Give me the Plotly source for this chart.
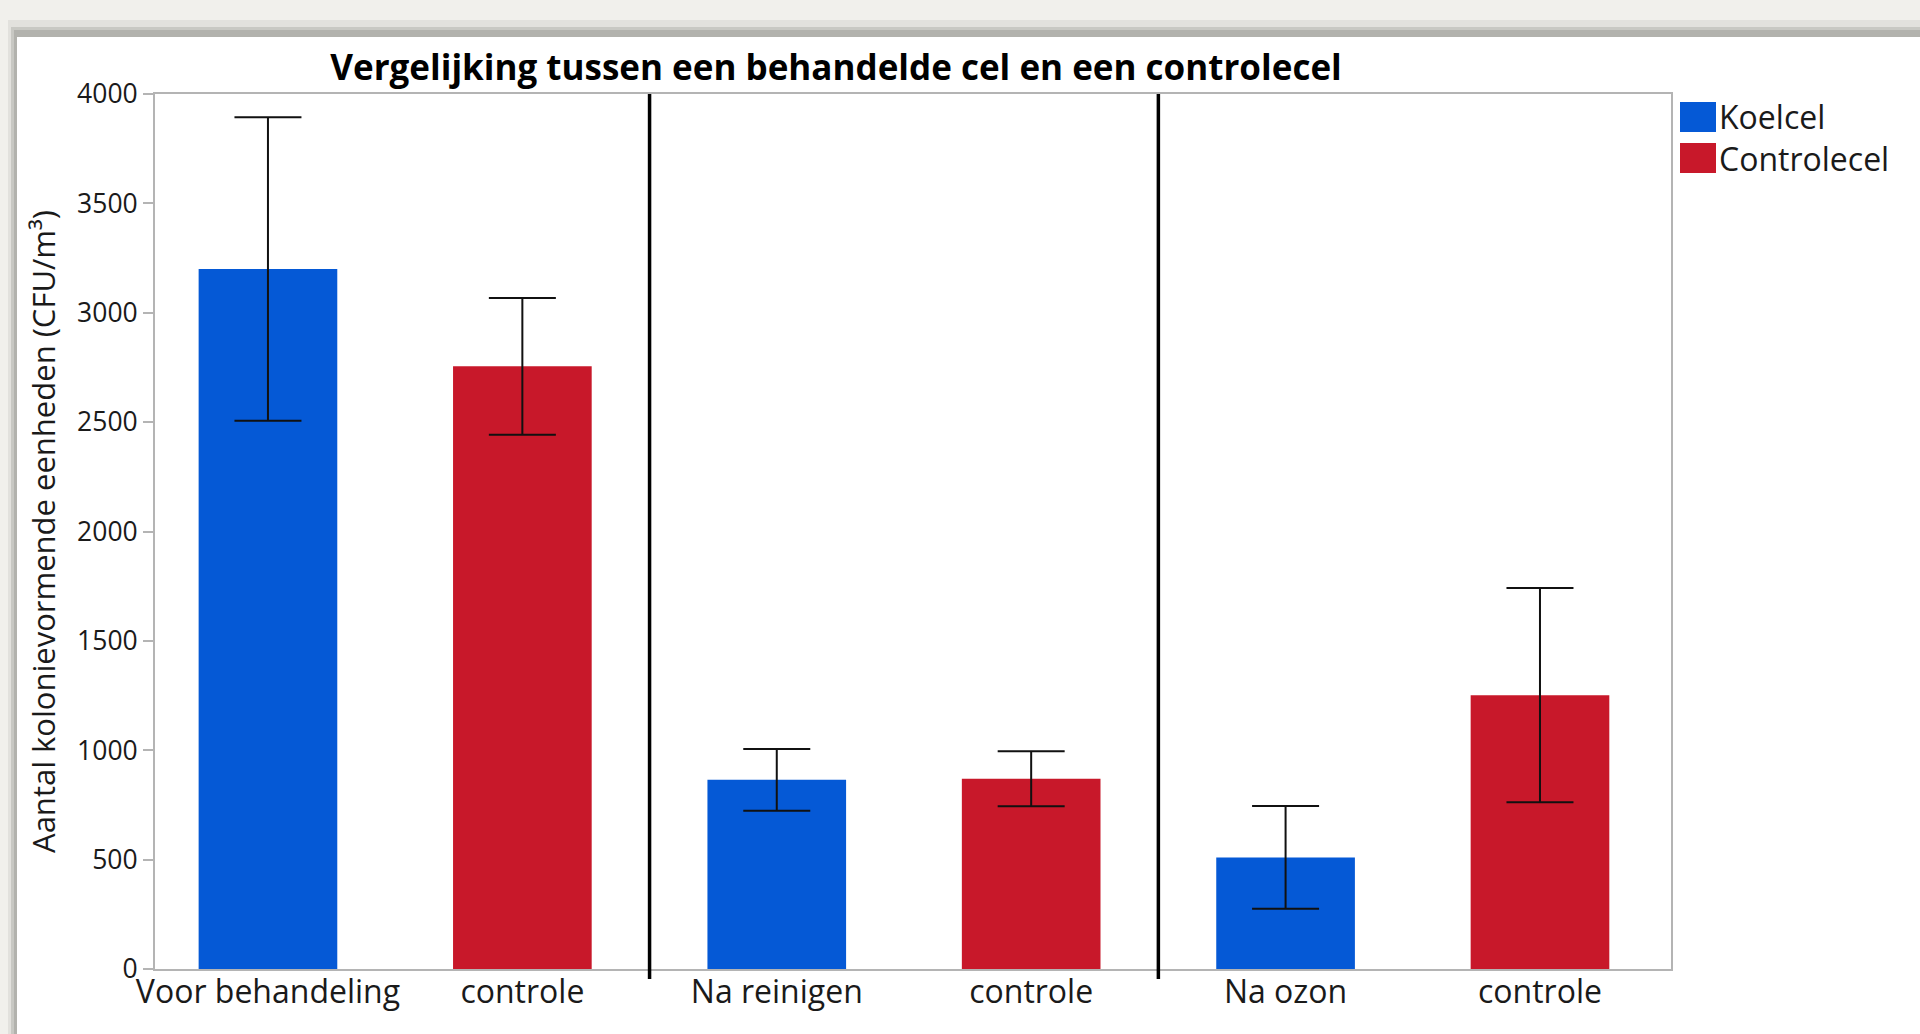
import plotly.graph_objects as go

# ---- data ----
categories = ["Voor behandeling", "controle", "Na reinigen", "controle", "Na ozon", "controle"]
koelcel_pos = [0, 2, 4]
koelcel_values = [3200, 865, 510]
koelcel_errors = [694, 141, 235]
controle_pos = [1, 3, 5]
controle_values = [2755, 870, 1252]
controle_errors = [313, 126, 490]
y_ticks = [0, 500, 1000, 1500, 2000, 2500, 3000, 3500, 4000]
separators = [1.5, 3.5]

W, H = 1920, 1034
L, R, T, B = 155, 1671, 94, 969
PW, PH = R - L, B - T

def px(xp):
    return (xp - L) / PW

def py(yp):
    return (B - yp) / PH

FONT = "Open Sans"
BLUE = "#0559D6"
RED = "#C8182A"
AXIS = "#B4B4B4"

fig = go.Figure()
fig.add_trace(go.Bar(
    x=koelcel_pos, y=koelcel_values, name="Koelcel", width=0.545,
    marker=dict(color=BLUE, line=dict(width=0)),
    error_y=dict(type="data", array=koelcel_errors, color="#111111", thickness=2, width=33.5),
))
fig.add_trace(go.Bar(
    x=controle_pos, y=controle_values, name="Controlecel", width=0.545,
    marker=dict(color=RED, line=dict(width=0)),
    error_y=dict(type="data", array=controle_errors, color="#111111", thickness=2, width=33.5),
))

shapes = []
# window frame background
shapes.append(dict(type="rect", xref="paper", yref="paper", x0=px(0), x1=px(W), y0=py(H), y1=py(0),
                   fillcolor="#F1F0EC", line=dict(width=0), layer="below"))
shapes.append(dict(type="rect", xref="paper", yref="paper", x0=px(8), x1=px(W), y0=py(H), y1=py(20),
                   fillcolor="#E2E1DD", line=dict(width=0), layer="below"))
shapes.append(dict(type="rect", xref="paper", yref="paper", x0=px(11), x1=px(W), y0=py(H), y1=py(27),
                   fillcolor="#C8C8C3", line=dict(width=0), layer="below"))
shapes.append(dict(type="rect", xref="paper", yref="paper", x0=px(14), x1=px(W), y0=py(H), y1=py(30),
                   fillcolor="#B2B2AD", line=dict(width=0), layer="below"))
shapes.append(dict(type="rect", xref="paper", yref="paper", x0=px(17), x1=px(W), y0=py(H), y1=py(37),
                   fillcolor="#FFFFFF", line=dict(width=0), layer="below"))
# separators
for s in separators:
    shapes.append(dict(type="line", xref="x", yref="paper", x0=s, x1=s, y0=-10 / PH, y1=1,
                       line=dict(color="#000000", width=3.5)))
# legend squares
leg = [("Koelcel", BLUE, 102, 132), ("Controlecel", RED, 143, 173)]
annotations = []
for name, col, y0, y1 in leg:
    shapes.append(dict(type="rect", xref="paper", yref="paper", x0=px(1680), x1=px(1716),
                       y0=py(y1), y1=py(y0), fillcolor=col, line=dict(width=0)))
    annotations.append(dict(text=name, xref="paper", yref="paper", x=px(1717), y=py((y0 + y1) / 2),
                            xanchor="left", yanchor="middle", showarrow=False,
                            font=dict(family=FONT, size=32, color="#1a1a1a")))

fig.update_layout(
    width=W, height=H,
    margin=dict(l=L, r=W - R, t=T, b=H - B, pad=0),
    paper_bgcolor="#F1F0EC",
    plot_bgcolor="rgba(0,0,0,0)",
    barmode="overlay",
    showlegend=False,
    title=dict(text="<b>Vergelijking tussen een behandelde cel en een controlecel</b>",
               xref="paper", x=px(836), xanchor="center",
               yref="container", y=1 - 68 / H, yanchor="middle",
               font=dict(family=FONT, size=35, color="#000000")),
    font=dict(family=FONT, color="#1a1a1a"),
    shapes=shapes,
    annotations=annotations,
    xaxis=dict(range=[-0.444, 5.515], tickvals=list(range(len(categories))), ticktext=categories,
               ticks="", showline=True, linecolor=AXIS, linewidth=2, mirror=True,
               showgrid=False, zeroline=False, tickfont=dict(family=FONT, size=32, color="#1a1a1a"),
               ticklabelstandoff=-6, automargin=False),
    yaxis=dict(range=[0, 4000], tickvals=y_ticks, ticks="outside", ticklen=10, tickwidth=2,
               tickcolor=AXIS, showline=True, linecolor=AXIS, linewidth=2, mirror=True,
               showgrid=False, zeroline=False, tickfont=dict(family=FONT, size=26.5, color="#1a1a1a"),
               title=dict(text="Aantal kolonievormende eenheden (CFU/m³)", standoff=12,
                          font=dict(family=FONT, size=31, color="#1a1a1a")),
               automargin=False),
)

fig.write_html("out.html", config={"displayModeBar": False},
               post_script="document.body.style.margin='0px';document.body.style.overflow='hidden';")
